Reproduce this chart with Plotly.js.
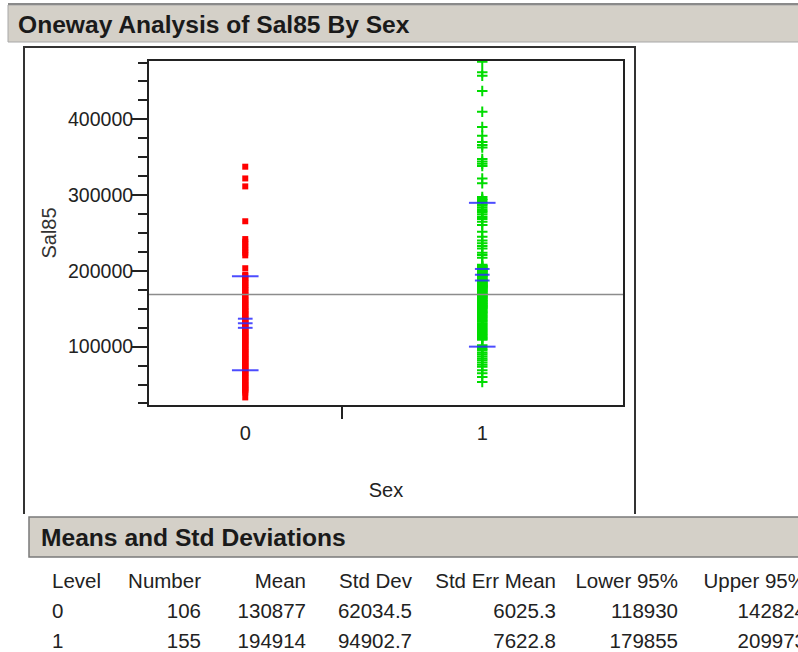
<!DOCTYPE html>
<html><head><meta charset="utf-8">
<script src="https://cdn.plot.ly/plotly-3.0.1.min.js"></script>
<style>html,body{margin:0;padding:0;overflow:hidden;background:#fff}#chart{width:830px;height:680px}</style>
</head><body><div id="chart"></div>
<script>
// ---- data ----
const levels = ['0', '1'];
const numbers = [106, 155];
const means = [130877, 194914];
const stdDevs = [62034.5, 94902.7];
const stdErrs = [6025.3, 7622.8];
const lower95 = [118930, 179855];
const upper95 = [142824, 209973];
const tableHeaders = ['Level', 'Number', 'Mean', 'Std Dev', 'Std Err Mean', 'Lower 95%', 'Upper 95%'];
const yTickVals = [100000, 200000, 300000, 400000];
const yTickText = ['100000', '200000', '300000', '400000'];

const sal85Sex0 = [
  337500, 322000, 311500, 265500, 242000, 238500, 235000, 231000, 227500, 224000, 220500, 203500,
  195000, 193500, 190000, 188200, 186000, 184500, 181000, 179200, 177500, 175000,
  172000, 170500, 168000, 166400, 164000, 161500, 160000, 158000, 156200, 154000,
  152500, 150000, 148600, 147000, 145500, 143000, 141800, 140000, 138200, 136500,
  135000, 133600, 132000, 130500, 129000, 127400, 126000, 124500, 123000, 121700,
  120000, 118500, 117200, 116000, 114500, 113000, 111600, 110000, 108800, 107500,
  106000, 104500, 103000, 101800, 100000, 98600, 97000, 95500, 94000, 92800,
  91000, 89600, 88000, 86500, 85000, 83800, 82000, 80500, 79000, 77500,
  76000, 74400, 73000, 71500, 70000, 68500, 67000, 65200, 63500, 62000,
  60000, 58400, 56500, 55000, 53000, 51200, 49500, 47800, 46000, 44500,
  42800, 41000, 39500, 33000
];
const sal85Sex1 = [
  476000, 462000, 457500, 437500, 410000, 390000, 378500, 370000, 366000, 363000,
  347500, 344500, 341500, 338500, 322000, 315500,
  297500, 295000, 293500, 291000, 288000, 286500, 284000, 281500, 279000, 277000,
  274500, 271000, 268500, 265000,
  260500, 251500, 245000, 240000, 236500, 233000, 229500, 224000, 221000, 217500,
  208000, 206500, 206000, 204800, 203500, 203000, 202200, 201000, 200500, 200000,
  199000, 198200, 197500, 196000, 195800, 195000, 194200, 193000, 192500, 191800,
  190000, 189500, 188700, 188000, 187200, 186000, 185500, 185000, 184100, 183000,
  182500, 182000, 181200, 180500, 180000, 179500, 178800, 178000, 177500, 176600,
  175800, 175000, 174200, 173000, 172500, 171400, 170000, 169500, 168800, 167500,
  166900, 166000, 165200, 164000, 163500, 162400, 161000, 160500, 159800, 158500,
  157600, 156800, 156000, 155200, 154000, 153500, 152600, 151800, 151000, 150000,
  148600, 147500, 146000, 145200, 144000, 142500, 141000, 139800, 138500, 137000,
  135500, 134200, 132800, 131000, 129500, 128000, 126600, 125000, 123500, 122000,
  120400, 119000, 117500, 116000, 114600, 113200, 111800, 110500, 109000,
  102000, 99500, 97000, 94800, 92000, 89500, 87000, 84500, 82000, 79000, 76000, 73500,
  69000, 65000, 60000, 53500
];

// ---- derived positions (JMP "X axis proportional": widths follow group sizes) ----
const total = numbers[0] + numbers[1];
const centers = [numbers[0] / 2, numbers[0] + numbers[1] / 2];
const grandMean = (numbers[0] * means[0] + numbers[1] * means[1]) / total;

const W = 830, H = 680;
const px = x => x / W;
const py = y => 1 - y / H;

const FONT = 'Liberation Sans, Arial, sans-serif';
const blue = 'rgba(45,45,255,0.85)';
// non-breaking spaces keep each header on one line (table wraps on plain spaces)
const headerShown = tableHeaders.map(s => s.replace(/ /g, '\u00a0'));

const traces = [
  { type: 'scatter', mode: 'markers', x: sal85Sex0.map(() => centers[0]), y: sal85Sex0,
    marker: { symbol: 'square', size: 6, color: '#ff0000', line: { width: 0 } }, showlegend: false },
  { type: 'scatter', mode: 'markers', x: sal85Sex1.map(() => centers[1]), y: sal85Sex1,
    marker: { symbol: 'cross-thin-open', size: 7.5, color: '#00dc00', line: { width: 2, color: '#00dc00' } }, showlegend: false },
  { type: 'scatter', mode: 'lines', x: [0, total], y: [grandMean, grandMean],
    line: { color: '#8c8c8c', width: 1.5 }, showlegend: false },
  { type: 'scatter', mode: 'markers',
    x: [centers[0], centers[0], centers[1], centers[1]],
    y: [means[0] - stdDevs[0], means[0] + stdDevs[0], means[1] - stdDevs[1], means[1] + stdDevs[1]],
    marker: { symbol: 'line-ew-open', size: 19, color: blue, line: { width: 2, color: blue } }, showlegend: false },
  { type: 'scatter', mode: 'markers',
    x: [centers[0], centers[0], centers[0], centers[1], centers[1], centers[1]],
    y: [means[0] - stdErrs[0], means[0], means[0] + stdErrs[0], means[1] - stdErrs[1], means[1], means[1] + stdErrs[1]],
    marker: { symbol: 'line-ew-open', size: 10.5, color: blue, line: { width: 2, color: blue } }, showlegend: false },
  { type: 'table',
    domain: { x: [px(44), px(814)], y: [0, py(565)] },
    columnwidth: [80, 85, 105, 106, 144, 122, 128],
    header: { values: headerShown, align: ['left', 'right', 'right', 'right', 'right', 'right', 'right'],
      height: 30, font: { family: FONT, size: 20.5, color: '#222' },
      fill: { color: 'white' }, line: { width: 0, color: 'white' } },
    cells: { values: [levels, numbers, means, stdDevs, stdErrs, lower95, upper95],
      align: ['left', 'right', 'right', 'right', 'right', 'right', 'right'],
      height: 30, font: { family: FONT, size: 20.5, color: '#222' },
      fill: { color: 'white' }, line: { width: 0, color: 'white' } } }
];

const framePath = `M${px(24)},${py(514)} L${px(24)},${py(47)} L${px(635)},${py(47)} L${px(635)},${py(514)}`;

const layout = {
  width: W, height: H,
  margin: { l: 0, r: 0, t: 0, b: 0, pad: 0 },
  paper_bgcolor: 'white', plot_bgcolor: 'white',
  showlegend: false,
  font: { family: FONT, color: '#222' },
  title: { text: 'Oneway Analysis of Sal85 By Sex', xref: 'paper', yref: 'paper',
    x: px(18), xanchor: 'left', y: py(24), yanchor: 'middle',
    font: { family: FONT, size: 24.6, weight: 700, color: '#1a1a1a' } },
  xaxis: {
    domain: [px(149), px(623)], range: [0, total], type: 'linear',
    tickmode: 'array', tickvals: centers, ticktext: levels,
    ticks: 'outside', ticklen: 9, tickcolor: 'rgba(0,0,0,0)',
    tickfont: { family: FONT, size: 20, color: '#222' },
    minor: { tickmode: 'array', tickvals: [numbers[0]], ticks: 'outside', ticklen: 12, tickwidth: 2, tickcolor: '#222' },
    showline: true, linewidth: 2, linecolor: '#222', mirror: true,
    showgrid: false, zeroline: false, fixedrange: true,
    title: { text: 'Sex', standoff: 40, font: { family: FONT, size: 20, color: '#222' } }
  },
  yaxis: {
    domain: [py(405), py(61)], range: [23000, 477000],
    tickmode: 'array', tickvals: yTickVals, ticktext: yTickText,
    ticks: 'outside', ticklen: 16, tickwidth: 2, tickcolor: '#222',
    ticklabelstandoff: -6,
    tickfont: { family: FONT, size: 19.5, color: '#222' },
    minor: { dtick: 25000, tick0: 0, ticks: 'outside', ticklen: 9, tickwidth: 2, tickcolor: '#222' },
    showline: true, linewidth: 2, linecolor: '#222', mirror: true,
    showgrid: false, zeroline: false, fixedrange: true,
    title: { text: 'Sal85', standoff: 6, font: { family: FONT, size: 20, color: '#333' } }
  },
  shapes: [
    { type: 'rect', xref: 'paper', yref: 'paper', x0: px(8), x1: 1, y0: py(42), y1: py(5),
      fillcolor: '#d4d0c8', line: { color: '#a8a8a8', width: 1 }, layer: 'below' },
    { type: 'line', xref: 'paper', yref: 'paper', x0: px(8), x1: 1, y0: py(4), y1: py(4),
      line: { color: '#8a8a8a', width: 2 }, layer: 'below' },
    { type: 'path', xref: 'paper', yref: 'paper', path: framePath,
      line: { color: '#333', width: 2 }, layer: 'below' },
    { type: 'rect', xref: 'paper', yref: 'paper', x0: px(29), x1: 1, y0: py(557), y1: py(517),
      fillcolor: '#d4d0c8', line: { color: '#7a7a7a', width: 1.5 }, layer: 'below' }
  ],
  annotations: [
    { text: 'Means and Std Deviations', xref: 'paper', yref: 'paper', x: px(39), y: py(537),
      xanchor: 'left', yanchor: 'middle', showarrow: false,
      font: { family: FONT, size: 24.6, weight: 700, color: '#1a1a1a' } }
  ]
};

Plotly.newPlot('chart', traces, layout, { staticPlot: true, displayModeBar: false });
</script>
</body></html>
